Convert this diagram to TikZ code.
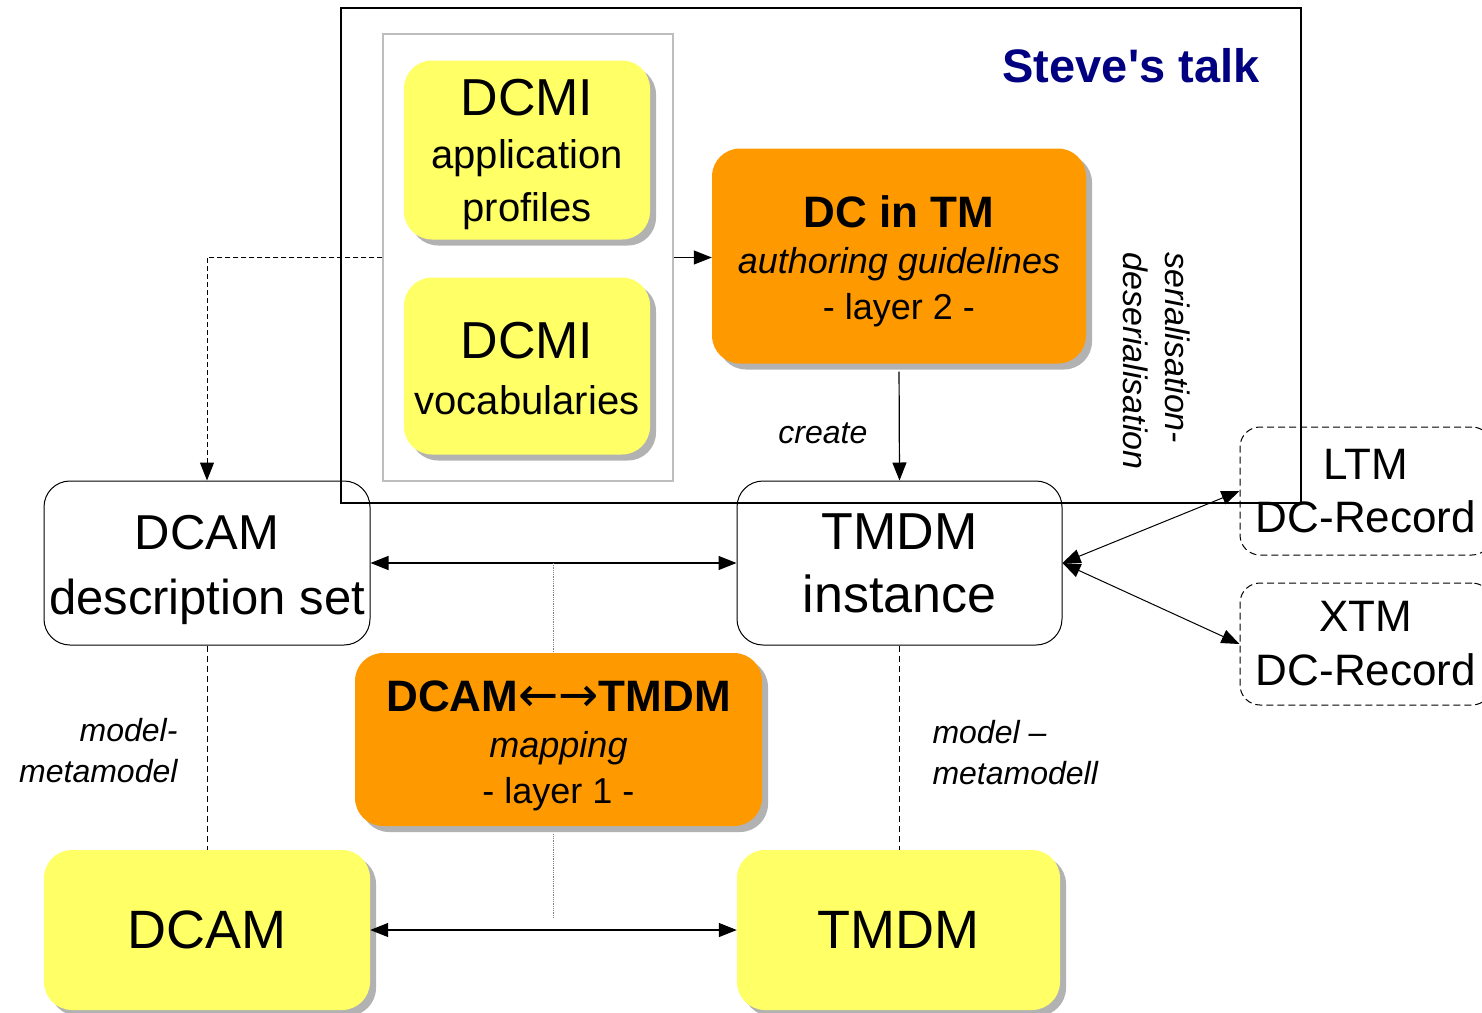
\documentclass[tikz,border=0pt]{standalone}
\usepackage{fontspec}
\setmainfont{Liberation Sans}
\newfontfamily\arrowfont{DejaVu Sans}
\usetikzlibrary{arrows.meta,shadows,calc}
\definecolor{dcyellow}{RGB}{255,255,102}
\definecolor{dcorange}{RGB}{255,153,0}
\definecolor{dcnavy}{RGB}{0,0,128}
\definecolor{dcgray}{RGB}{190,190,190}
\newcommand\setfs[2]{\fontsize{#1}{#2}\selectfont}
\newcommand\lift[1]{\rule{0pt}{#1pt}}

\begin{document}
\begin{tikzpicture}[x=1pt,y=-1pt,
  >={Triangle[length=18pt,width=14pt]},
  dcbox/.style={rectangle,rounded corners=28pt,inner sep=0pt,align=center},
  boxshadow/.style={general shadow={fill=black!30,shadow xshift=6pt,shadow yshift=-6pt}},
  yelbox/.style={dcbox,fill=dcyellow,boxshadow},
  orbox/.style={dcbox,fill=dcorange,boxshadow},
  wbox/.style={dcbox,draw,fill=white,line width=1pt,rounded corners=26pt},
  recbox/.style={dcbox,draw,dash pattern=on 7pt off 4pt,line width=1pt,rounded corners=20pt},
  link/.style={line width=1.2pt,->},
  bilink/.style={line width=1.2pt,<->}]
\useasboundingbox (0,0) rectangle (1482,1012);
\clip (0,0) rectangle (1482,1012);

% DCMI group
\node[draw=dcgray,line width=1.2pt,minimum width=290pt,minimum height=447pt] (dcmi) at (528,257.5) {};
\node[yelbox,minimum width=246pt,minimum height=179pt,font=\setfs{40}{53}] (profiles) at (527,150)
  {{\setfs{52}{53}\lift{46}DCMI}\\application\\profiles};
\node[yelbox,minimum width=246pt,minimum height=177pt,font=\setfs{40}{56}] (vocab) at (527,366)
  {{\setfs{52}{56}\lift{42}DCMI}\\vocabularies};

% layer 2
\node[orbox,minimum width=374pt,minimum height=215pt,font=\setfs{36}{46}] (guide) at (899,256)
  {{\setfs{44}{46}\bfseries\lift{42}DC in TM}\\\itshape authoring guidelines\\- layer 2 -};

% instances
\node[wbox,minimum width=326pt,minimum height=164pt,font=\setfs{49}{65}] (descset) at (207,563)
  {\lift{48}DCAM\\description set};
\node[wbox,minimum width=325pt,minimum height=164pt,font=\setfs{52}{63}] (instance) at (899.5,563)
  {TMDM\\instance};

% layer 1
\node[orbox,minimum width=407pt,minimum height=173pt,font=\setfs{36}{46}] (mapping) at (558.5,739.5)
  {{\setfs{44}{46}\bfseries\lift{44}DCAM{\arrowfont\mdseries\setfs{48}{46}←→}TMDM}\\\itshape mapping\\- layer 1 -};

% models
\node[yelbox,minimum width=326pt,minimum height=160pt,font=\setfs{54}{60}] (dcam) at (207,930) {DCAM};
\node[yelbox,minimum width=323pt,minimum height=160pt,font=\setfs{54}{60}] (tmdm) at (898.5,930) {TMDM};

% records
\node[recbox,minimum width=252pt,minimum height=128pt,font=\setfs{44}{53}] (ltm) at (1366,491) {LTM\\DC-Record};
\node[recbox,minimum width=252pt,minimum height=122pt,font=\setfs{44}{54}] (xtm) at (1366,644) {XTM\\DC-Record};

% connectors
\draw[link] (dcmi.east) -- (dcmi.east -| guide.west);
\draw[link,dash pattern=on 5pt off 3pt,line width=1pt] (dcmi.west) -| (descset.north);
\draw[link,shorten <=8pt] (guide.south) -- (instance.north)
  node[pos=0.6,left=28pt,font=\setfs{32}{36}\itshape] (create) {create};
\draw[bilink] (descset.east) -- (instance.west);
\draw[bilink] (dcam.east) -- (tmdm.west);
\draw[bilink,line width=1pt] (instance.east) -- (ltm.west);
\draw[bilink,line width=1pt] (instance.east) -- (xtm.west);
\coordinate (mid1) at ($(descset.east)!0.5!(instance.west)$);
\coordinate (mid2) at ($(dcam.east)!0.5!(tmdm.west)$);
\draw[densely dotted,gray,line width=0.8pt] (mid1) -- (mid1 |- mapping.north);
\draw[densely dotted,gray,line width=0.8pt] ([yshift=-8pt]mid2 |- mapping.south) -- ([yshift=12pt]mid2);
\draw[dash pattern=on 6pt off 4pt,line width=1pt] (descset.south) -- (dcam.north);
\draw[dash pattern=on 6pt off 4pt,line width=1pt] (instance.south) -- (instance.south |- tmdm.north);

% labels
\node[anchor=east,align=right,font=\setfs{32}{41}\itshape] (mm1) at (181,751) {model-\\metamodel};
\node[anchor=west,align=left,font=\setfs{32}{41}\itshape] (mm2) at (929,753) {model --\\metamodell};
\node[rotate=-90,align=left,font=\setfs{34}{42}\itshape] (serial) at (1157,361)
  {serialisation-\\deserialisation};

% Steve's talk frame
\node[draw,line width=2pt,minimum width=960pt,minimum height=495pt,inner sep=0pt] (talk) at (821,255.5) {};
\node[font=\setfs{47}{50}\bfseries,text=dcnavy] (title) at (1131,66) {Steve\textquotesingle s talk};
\end{tikzpicture}
\end{document}
